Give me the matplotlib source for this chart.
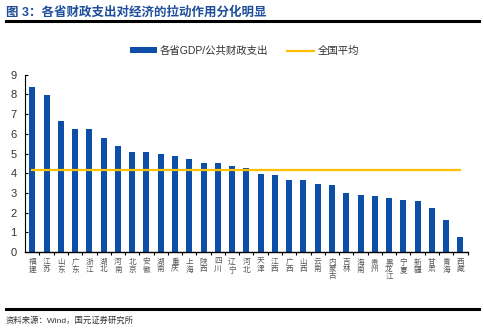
import matplotlib
matplotlib.use("Agg")
import matplotlib.pyplot as plt
import numpy as np

plt.rcParams['font.family'] = ['Liberation Sans', 'Noto Sans CJK SC']

# data
provinces = ['福建', '江苏', '山东', '广东', '浙江', '湖北', '河南', '北京', '安徽', '湖南',
             '重庆', '上海', '陕西', '四川', '辽宁', '河北', '天津', '江西', '广西', '山西',
             '云南', '内蒙古', '吉林', '海南', '贵州', '黑龙江', '宁夏', '新疆', '甘肃', '青海', '西藏']
ratio = [8.39, 7.98, 6.65, 6.24, 6.24, 5.79, 5.37, 5.06, 5.06, 4.97,
         4.89, 4.71, 4.53, 4.53, 4.37, 4.26, 3.97, 3.89, 3.65, 3.64,
         3.45, 3.38, 2.99, 2.88, 2.84, 2.74, 2.62, 2.57, 2.22, 1.61, 0.78]
national_avg = 4.15
yticks = list(range(0, 10))

bar_color = '#0d4ea6'
avg_color = '#ffc000'
text_color = '#333333'

fig = plt.figure(figsize=(4.84, 3.33), dpi=100)
ax = fig.add_axes([0.052, 0.2432, 0.914, 0.5325])

x = np.arange(len(provinces))
bars = ax.bar(x, ratio, width=0.42, color=bar_color, label='各省GDP/公共财政支出', zorder=2)
avg_line, = ax.plot([x[0], x[-1]], [national_avg, national_avg], color=avg_color, lw=1.6,
                    label='全国平均', zorder=3)

ax.set_xlim(-0.5, len(provinces) - 0.5)
ax.set_ylim(0, 9)
ax.set_yticks(yticks)
ax.tick_params(axis='y', direction='in', length=2.5, width=0.8, labelsize=8,
               labelcolor=text_color, pad=6)

# category ticks sit between bars, labels stacked vertically
ax.set_xticks(x + 0.5)
ax.set_xticklabels([])
ax.tick_params(axis='x', direction='out', length=2.5, width=0.8)
for xi, name in zip(x, provinces):
    ax.text(xi, -0.35, '\n'.join(name), ha='center', va='top', fontsize=5.5,
            color='#555555', linespacing=1.05)

for s in ['top', 'right']:
    ax.spines[s].set_visible(False)
ax.spines['left'].set_linewidth(0.8)
ax.spines['bottom'].set_linewidth(1.0)

leg = fig.legend([bars, avg_line], ['各省GDP/公共财政支出', '全国平均'],
                 loc='center', bbox_to_anchor=(0.505, 0.847), ncol=2, frameon=False,
                 fontsize=7.5, handlelength=2.6, handleheight=0.55, columnspacing=1.8,
                 handletextpad=0.3)
for t in leg.get_texts():
    t.set_color(text_color)

# header and footer
fig.text(0.012, 0.962, '图 3：各省财政支出对经济的拉动作用分化明显', fontsize=9,
         fontweight='bold', color='#1f4e9a', ha='left', va='center')
fig.add_artist(plt.Line2D([0.012, 0.99], [0.937, 0.937], color='black', lw=2.2))
fig.add_artist(plt.Line2D([0.012, 0.99], [0.072, 0.072], color='black', lw=2.2))
fig.text(0.012, 0.036, '资料来源：Wind，国元证券研究所', fontsize=6, color=text_color,
         ha='left', va='center')

fig.savefig('out.png', dpi=100)
